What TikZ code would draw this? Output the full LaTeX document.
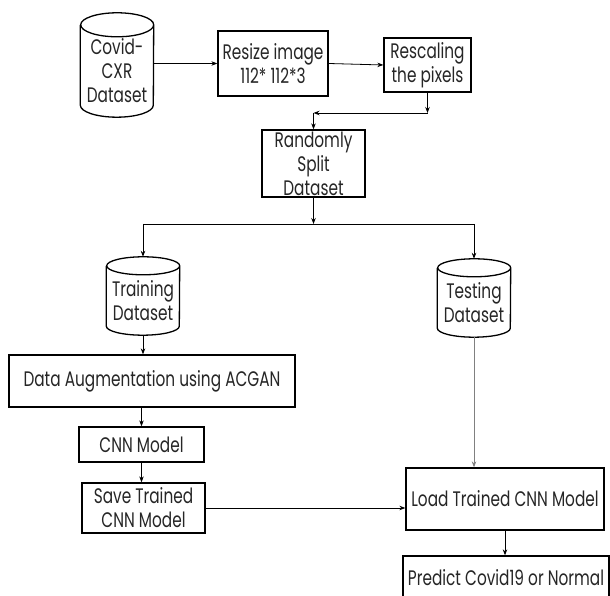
\documentclass[tikz,border=0pt]{standalone}
\usepackage{fontspec}
\setmainfont{Poppins}[FakeStretch=0.73]
\usetikzlibrary{arrows.meta}

\begin{document}
\begin{tikzpicture}[x=1pt, y=1pt, font=\fontsize{21}{24}\selectfont, text=black!85,
  box/.style={draw, line width=1.3pt, align=center, inner sep=0pt},
  db/.style={align=center, inner sep=0pt, minimum width=73pt},
  link/.style={-{Stealth[length=6pt,width=4.5pt]}, line width=0.8pt}]
\useasboundingbox (0,0) rectangle (610,596);
% Boxes
\foreach \n/\x/\y/\w/\h/\t in {resize/273/532.5/110/65/{Resize image\\112* 112*3},
    rescale/427.5/531/87/54/{Rescaling\\the pixels},
    split/313.5/432.5/103/67/{Randomly\\Split\\Dataset},
    aug/152/215/286/52/{Data Augmentation using ACGAN},
    cnn/141.5/151.5/125/35/{CNN Model},
    save/143.5/88/123/50/{Save Trained\\CNN Model},
    load/505/97/198/62/{Load Trained CNN Model},
    predict/506/18/206/44/{Predict Covid19 or Normal}} {
  \node[box, minimum width=\w pt, minimum height=\h pt] (\n) at (\x,\y) {\t};
}
% Datasets
\foreach \n/\x/\y/\h/\r/\t in {covid/117/525/92/12/{Covid-\\CXR\\Dataset},
    train/143/295.5/69/9/{Training\\Dataset},
    test/474/293.5/69/9/{Testing\\Dataset}} {
  \node[db, minimum height=\h pt] (\n) at (\x,\y) {\t};
  \draw[line width=1.3pt] (\n.north west) -- ([yshift=\r pt]\n.south west)
    arc[start angle=180, end angle=360, x radius=36.5pt, y radius=\r pt]
    -- (\n.north east) arc[start angle=0, end angle=360, x radius=36.5pt, y radius=\r pt];
}
% Arrows
\coordinate (turn) at (427.5,483);
\coordinate (fork) at (313.5,372);
\draw[link] (covid.east |- resize) -- (resize.west);
\draw[link] (resize.east) -- (rescale.west);
\draw[link] (rescale) -- (turn);
\draw[link] (turn) -- (split.north |- turn);
\draw[link] (split.north |- turn) -- (split);
\draw[link] (split) -- (fork);
\draw[line width=0.8pt] (train.north |- fork) -- (test.north |- fork);
\draw[link] (train.north |- fork) -- ([yshift=9pt]train.north);
\draw[link] (test.north |- fork) -- ([yshift=9pt]test.north);
\draw[link] (train.south) -- (train.south |- aug.north);
\draw[link] (aug.south -| cnn) -- (cnn);
\draw[link] (cnn.south) -- (cnn.south |- save.north);
\draw[link] (save.east) -- (save.east -| load.west);
\draw[link, gray] (test) -- (test |- load.north);
\draw[link] (load) -- (load |- predict.north);
\end{tikzpicture}
\end{document}
